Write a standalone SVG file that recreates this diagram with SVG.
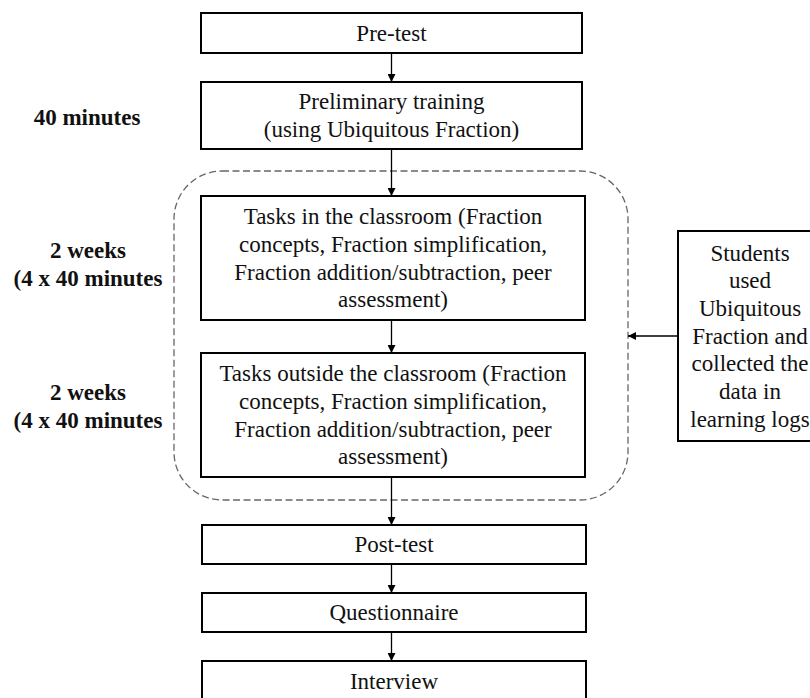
<svg xmlns="http://www.w3.org/2000/svg" width="810" height="698" viewBox="0 0 810 698">
<style>
.box{fill:#fff;stroke:#000;stroke-width:2}
.t{font-family:"Liberation Serif","Times New Roman",serif;font-size:23px;fill:#111;text-anchor:middle}
.b{font-weight:bold}
.c{stroke:#000;stroke-width:1.3;fill:none}
</style>
<defs>
<marker id="ah" viewBox="0 0 10 10" refX="10" refY="5" markerWidth="9" markerHeight="8" markerUnits="userSpaceOnUse" orient="auto">
<path d="M0,0 L10,5 L0,10 z" fill="#000"/>
</marker>
</defs>
<rect width="810" height="698" fill="#fff"/>
<g id="group-dashed">
<rect x="174" y="171" width="454" height="329" rx="48" ry="48" fill="none" stroke="#666" stroke-width="1.3" stroke-dasharray="7 3.5"/>
</g>
<g id="connectors">
<line class="c" x1="391.5" y1="53" x2="391.5" y2="82" marker-end="url(#ah)"/>
<line class="c" x1="391.5" y1="149" x2="391.5" y2="196" marker-end="url(#ah)"/>
<line class="c" x1="391.5" y1="320" x2="391.5" y2="353" marker-end="url(#ah)"/>
<line class="c" x1="391.5" y1="477" x2="391.5" y2="525" marker-end="url(#ah)"/>
<line class="c" x1="391.5" y1="564" x2="391.5" y2="593" marker-end="url(#ah)"/>
<line class="c" x1="391.5" y1="632" x2="391.5" y2="661" marker-end="url(#ah)"/>
<line class="c" x1="678" y1="336" x2="628" y2="336" marker-end="url(#ah)"/>
</g>
<g id="pretest">
<rect class="box" x="201" y="13" width="381" height="40"/>
<text class="t" x="391.5" y="41">Pre-test</text>
</g>
<g id="preliminary">
<rect class="box" x="201" y="82" width="381" height="67"/>
<text class="t" x="391.5" y="109">Preliminary training</text>
<text class="t" x="391.5" y="137">(using Ubiquitous Fraction)</text>
</g>
<g id="tasks-in">
<rect class="box" x="201" y="196" width="384" height="124"/>
<text class="t" x="393" y="224">Tasks in the classroom (Fraction</text>
<text class="t" x="393" y="252">concepts, Fraction simplification,</text>
<text class="t" x="393" y="279.5">Fraction addition/subtraction, peer</text>
<text class="t" x="393" y="307">assessment)</text>
</g>
<g id="tasks-out">
<rect class="box" x="201" y="353" width="384" height="124"/>
<text class="t" x="393" y="381">Tasks outside the classroom (Fraction</text>
<text class="t" x="393" y="409">concepts, Fraction simplification,</text>
<text class="t" x="393" y="436.5">Fraction addition/subtraction, peer</text>
<text class="t" x="393" y="464">assessment)</text>
</g>
<g id="posttest">
<rect class="box" x="202" y="525" width="384" height="39"/>
<text class="t" x="394" y="552">Post-test</text>
</g>
<g id="questionnaire">
<rect class="box" x="202" y="593" width="384" height="39"/>
<text class="t" x="394" y="620">Questionnaire</text>
</g>
<g id="interview">
<rect class="box" x="202" y="661" width="384" height="40"/>
<text class="t" x="394" y="689">Interview</text>
</g>
<g id="students">
<rect class="box" x="678" y="231" width="144" height="210"/>
<text class="t" x="750" y="260.5">Students</text>
<text class="t" x="750" y="288">used</text>
<text class="t" x="750" y="316">Ubiquitous</text>
<text class="t" x="750" y="343.5">Fraction and</text>
<text class="t" x="750" y="371">collected the</text>
<text class="t" x="750" y="399">data in</text>
<text class="t" x="750" y="426.5">learning logs</text>
</g>
<g id="label-40min">
<text class="t b" x="87" y="124.5">40 minutes</text>
</g>
<g id="label-2weeks-a">
<text class="t b" x="88" y="257.5">2 weeks</text>
<text class="t b" x="88" y="285.5">(4 x 40 minutes</text>
</g>
<g id="label-2weeks-b">
<text class="t b" x="88" y="399.5">2 weeks</text>
<text class="t b" x="88" y="427.5">(4 x 40 minutes</text>
</g>
</svg>
